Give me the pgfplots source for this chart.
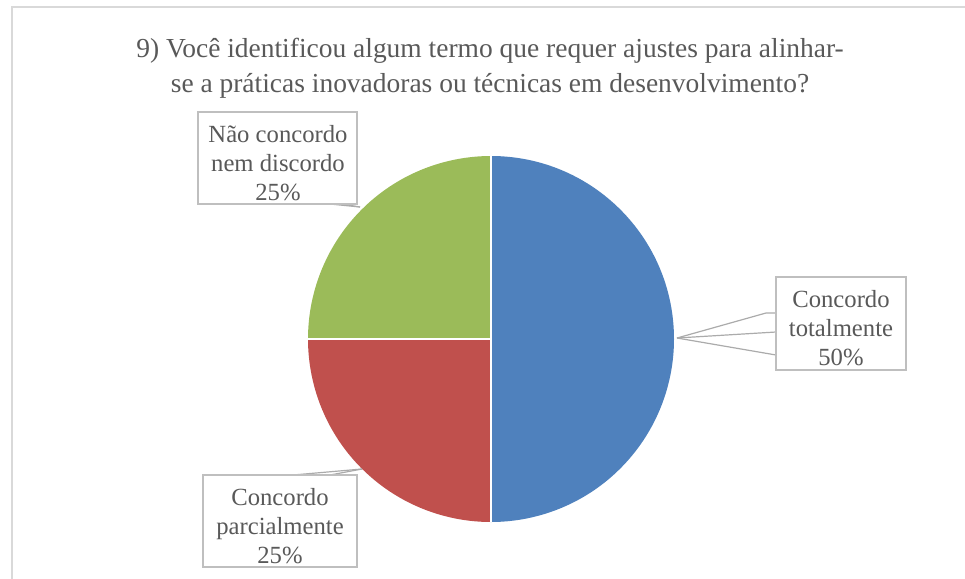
\documentclass[border=0pt]{standalone}
\usepackage{pgfplots}
\pgfplotsset{compat=1.18}
\usepackage{fontspec}
\setmainfont{Liberation Serif}
\definecolor{cblue}{HTML}{4F81BD}
\definecolor{cred}{HTML}{C0504D}
\definecolor{cgreen}{HTML}{9BBB59}
\definecolor{ctext}{HTML}{595959}
\definecolor{cbox}{HTML}{BFBFBF}
\definecolor{clead}{HTML}{ABABAB}
\definecolor{cframe}{HTML}{D9D9D9}
\begin{document}
\begin{tikzpicture}
\begin{axis}[width=723.75pt,height=434.25pt,scale only axis,at={(0,0)},anchor=south west,
  xmin=0,xmax=965,ymin=0,ymax=579,hide axis,clip=false,y dir=reverse]
% values (percent)
\def\vA{50}% Concordo totalmente
\def\vB{25}% Concordo parcialmente
\def\vC{25}% Nao concordo nem discordo
\pgfmathsetmacro{\aA}{90-3.6*\vA}
\pgfmathsetmacro{\aB}{\aA-3.6*\vB}
\pgfmathsetmacro{\aC}{\aB-3.6*\vC}
\def\R{137.25pt}
% frame
\draw[cframe,line width=1.5pt] (axis cs:11.5,579) -- (axis cs:11.5,7) -- (axis cs:965,7);
% title
\node[ctext,font=\fontsize{20.6}{26}\selectfont,align=center] at (axis cs:490,68)
  {9) Você identificou algum termo que requer ajustes para alinhar-\\se a práticas inovadoras ou técnicas em desenvolvimento?};
% pie
\fill[cblue] (axis cs:491,339) -- ++(90:\R) arc[start angle=90,end angle=\aA,radius=\R] -- cycle;
\fill[cred] (axis cs:491,339) -- ++(\aA:\R) arc[start angle=\aA,end angle=\aB,radius=\R] -- cycle;
\fill[cgreen] (axis cs:491,339) -- ++(\aB:\R) arc[start angle=\aB,end angle=\aC,radius=\R] -- cycle;
\draw[white,line width=1.5pt] (axis cs:491,339) -- ++(90:\R);
\draw[white,line width=1.5pt] (axis cs:491,339) -- ++(\aA:\R);
\draw[white,line width=1.5pt] (axis cs:491,339) -- ++(\aB:\R);
% leader lines
\draw[clead,line width=0.9pt] (axis cs:677,338) -- (axis cs:766,313) -- (axis cs:776,313);
\draw[clead,line width=0.9pt] (axis cs:677,338) -- (axis cs:776,332);
\draw[clead,line width=0.9pt] (axis cs:677,338) -- (axis cs:776,355);
\draw[clead,line width=0.9pt] (axis cs:360,207) -- (axis cs:330,204);
\draw[clead,line width=0.9pt] (axis cs:360,207) -- (axis cs:342,204);
\draw[clead,line width=0.9pt] (axis cs:362,469) -- (axis cs:293,475);
\draw[clead,line width=0.9pt] (axis cs:362,469) -- (axis cs:330,475);
% label boxes
\draw[cbox,line width=0.9pt,fill=white] (axis cs:198,112) rectangle (axis cs:357,204);
\draw[cbox,line width=0.9pt,fill=white] (axis cs:776,277) rectangle (axis cs:906,370);
\draw[cbox,line width=0.9pt,fill=white] (axis cs:203,475) rectangle (axis cs:357,567);
\node[ctext,font=\fontsize{18.5}{21.5}\selectfont,align=center] at (axis cs:278,163) {Não concordo\\nem discordo\\25\%};
\node[ctext,font=\fontsize{18.5}{21.5}\selectfont,align=center] at (axis cs:841,328) {Concordo\\totalmente\\50\%};
\node[ctext,font=\fontsize{18.5}{21.5}\selectfont,align=center] at (axis cs:280,526) {Concordo\\parcialmente\\25\%};
\end{axis}
\pgfresetboundingbox
\path (0,0) rectangle (723.75pt,434.25pt);
\end{tikzpicture}
\end{document}
